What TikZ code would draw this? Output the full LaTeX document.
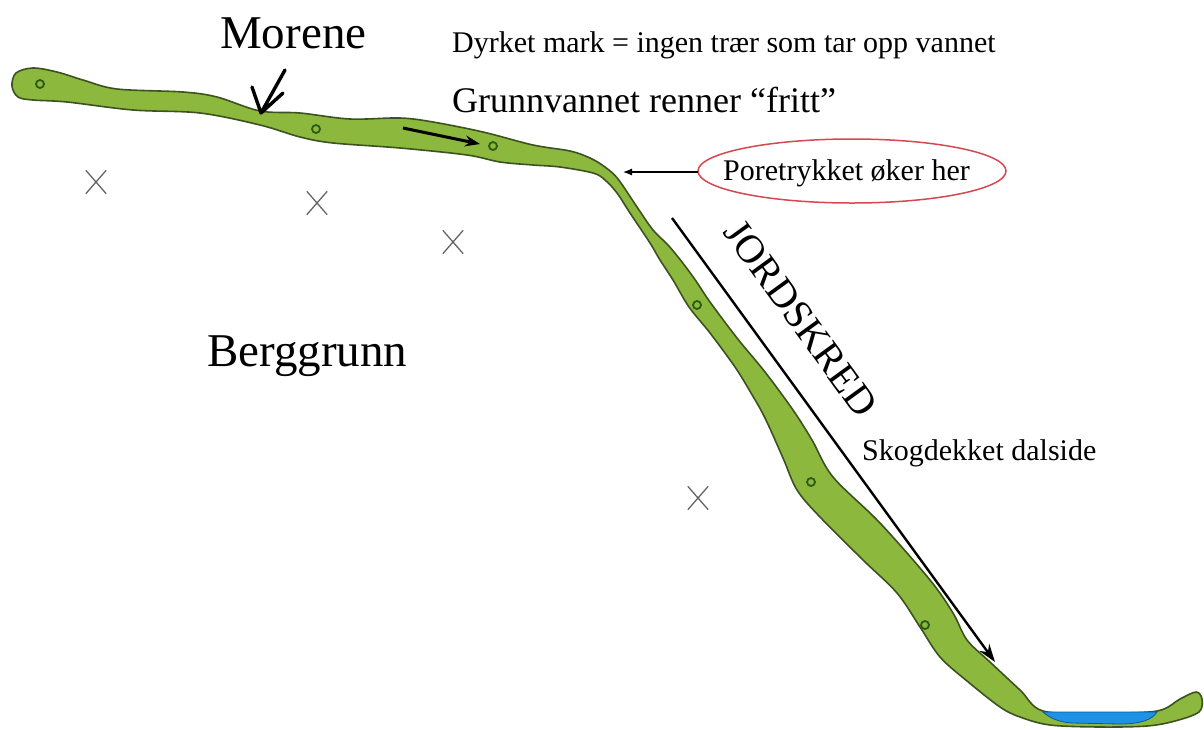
\documentclass[tikz,border=0pt]{standalone}
\usepackage{fontspec}
\setmainfont{Liberation Serif}
\usetikzlibrary{arrows.meta,shapes.misc}

\definecolor{moss}{RGB}{141,184,62}
\definecolor{mossline}{RGB}{60,82,32}
\definecolor{pebble}{RGB}{42,92,22}
\definecolor{lake}{RGB}{30,146,230}
\definecolor{ring}{RGB}{212,72,80}

\begin{document}
\begin{tikzpicture}[x=1pt,y=-1pt,
  layer/.style={fill=moss,draw=mossline,line width=1.6pt},
  stone/.style={circle,draw=pebble,line width=1.8pt,inner sep=0pt,minimum size=8pt},
  cross/.style={cross out,draw=black!60,line width=1.3pt,minimum width=19pt,minimum height=22pt},
  lbl/.style={inner sep=0pt,anchor=base west}]
\useasboundingbox (0,0) rectangle (1204,729);

% moraine layer on the bedrock
\draw[layer] plot[smooth cycle,tension=0.55] coordinates {
  (12,86) (16,73) (33,68) (57,72) (83,80) (117,89) (183,92) (217,97)
  (260,111) (300,113) (350,119) (400,118) (433,122) (483,132) (533,145)
  (570,151) (590,158) (605,167) (618,179) (637,207) (653,230) (668,245)
  (682,262) (696,281) (710,302) (737,338) (765,372) (793,410) (812,440)
  (833,477) (880,523) (930,580) (953,613) (967,640) (990,662) (1020,690)
  (1043,711) (1100,713) (1157,711) (1180,699) (1196,692) (1202,699)
  (1199,712) (1175,721) (1147,726) (1100,727) (1050,725) (1020,717)
  (1000,707) (967,681) (940,657) (920,627) (897,593) (863,560) (820,517)
  (797,490) (783,458) (765,418) (751,393) (735,367) (710,333) (689,307)
  (673,280) (660,260) (650,243) (630,213) (617,193) (605,180) (593,173)
  (560,167) (533,165) (500,162) (467,155) (400,148) (333,143) (300,137)
  (260,125) (200,113) (133,110) (67,102) (33,100) (18,97)};
\draw[fill=lake,draw=lake!60!black,line width=0.8pt] (1043,712) -- (1157,712)
  .. controls (1152,720) and (1140,724) .. (1120,724) -- (1072,723)
  .. controls (1058,722) and (1050,718) .. cycle;

\node[stone] (s_1) at (40,84)  {};
\node[stone] (s_2) at (316,129) {};
\node[stone] (s_3) at (493,146) {};
\node[stone] (s_4) at (697,305) {};
\node[stone] (s_5) at (811,482) {};
\node[stone] (s_6) at (925,625) {};

\node[cross] (x_1) at (96,182)  {};
\node[cross] (x_2) at (317,203) {};
\node[cross] (x_3) at (453,242) {};
\node[cross] (x_4) at (698,498) {};

% labels
\node[lbl,font=\fontsize{47}{50}\selectfont] (morene) at (220,48) {Morene};
\node[lbl,font=\fontsize{30}{34}\selectfont] (dyrket) at (452,52) {Dyrket mark = ingen trær som tar opp vannet};
\node[lbl,font=\fontsize{36}{40}\selectfont] (grunn) at (452,112) {Grunnvannet renner “fritt”};
\node[lbl,font=\fontsize{47}{50}\selectfont] (berg) at (207,366) {Berggrunn};
\node[lbl,font=\fontsize{30}{34}\selectfont] (skog) at (862,460) {Skogdekket dalside};
\node[lbl,font=\fontsize{30}{34}\selectfont] (pore) at (723,180) {Poretrykket øker her};
\draw[ring,line width=1.5pt] (852,171) ellipse [x radius=154pt,y radius=32pt];

\coordinate (pore_w) at (698,172);
\coordinate (bend) at (623,172);
\coordinate (m_top) at (285,70);
\coordinate (m_tip) at (261,113);
\coordinate (flow_a) at (403,128);
\coordinate (flow_b) at (480,144);
\coordinate (slide_a) at (672,218);
\coordinate (slide_b) at (995,662);

\draw[-{Latex[length=9pt,width=7pt]},line width=1.2pt] (pore_w) -- (bend);
\draw[-{Stealth[length=15pt,width=11pt]},line width=3pt] (flow_a) -- (flow_b);
\draw[line width=3.4pt,line cap=round,line join=round]
  (m_top) -- (m_tip) -- ++(-9,-26) (m_tip) -- ++(22,-20);
\draw[-{Stealth[length=18pt,width=12pt]},line width=2.4pt] (slide_a) -- (slide_b)
  node[pos=0.286,sloped,above=45pt,anchor=center,inner sep=0pt,
  font=\fontsize{40}{44}\selectfont] (jord) {JORDSKRED};
\end{tikzpicture}
\end{document}
